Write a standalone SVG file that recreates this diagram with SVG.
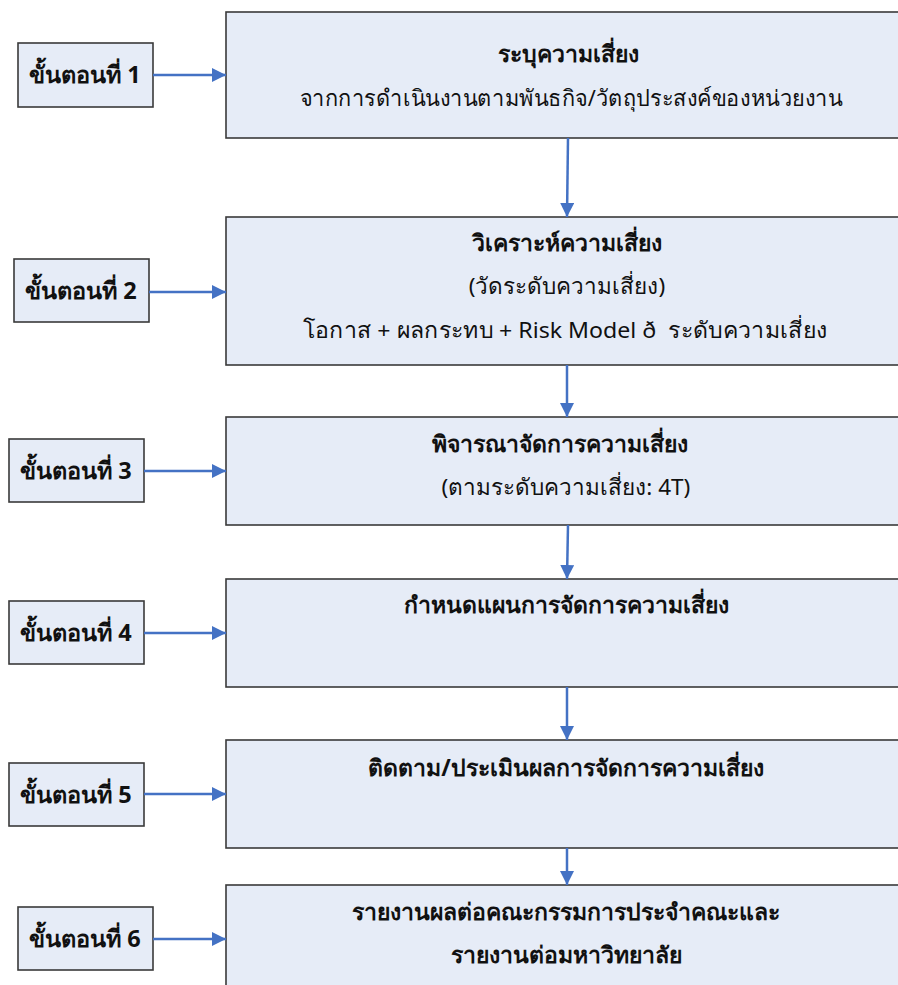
<svg xmlns="http://www.w3.org/2000/svg" width="898" height="985" viewBox="0 0 898 985">
<defs>
<style>
.box{fill:#E6ECF7;stroke:#3a3a3a;stroke-width:1.6}
.t{font-family:"Noto Sans","DejaVu Sans",sans-serif;font-size:22.5px;fill:#111;text-anchor:middle}
.b{font-weight:bold;font-size:23px}
.lb{font-family:"Noto Sans","DejaVu Sans",sans-serif;font-size:23.5px;font-weight:bold;fill:#111;text-anchor:middle}
.c{stroke:#4472C4;stroke-width:2.5;fill:none;marker-end:url(#ah)}
</style>
<marker id="ah" viewBox="0 0 10 10" refX="10" refY="5" markerWidth="5.6" markerHeight="5.6" markerUnits="strokeWidth" orient="auto">
<path d="M0,0 L10,5 L0,10 z" fill="#4472C4"/>
</marker>
</defs>
<rect width="898" height="985" fill="#fff"/>

<g id="main1"><rect class="box" x="226" y="12" width="690" height="126"/>
<text class="t b" x="568" y="62">ระบุความเสี่ยง</text>
<text class="t" x="571" y="106" textLength="543" lengthAdjust="spacingAndGlyphs">จากการดำเนินงานตามพันธกิจ/วัตถุประสงค์ของหน่วยงาน</text></g>
<g id="main2"><rect class="box" x="226" y="217" width="690" height="148"/>
<text class="t b" x="567" y="251">วิเคราะห์ความเสี่ยง</text>
<text class="t" x="567" y="294">(วัดระดับความเสี่ยง)</text>
<text class="t" x="565" y="338" textLength="525" lengthAdjust="spacingAndGlyphs" xml:space="preserve">โอกาส + ผลกระทบ + Risk Model ð  ระดับความเสี่ยง</text></g>
<g id="main3"><rect class="box" x="226" y="417" width="690" height="108"/>
<text class="t b" x="560" y="452">พิจารณาจัดการความเสี่ยง</text>
<text class="t" x="566" y="495">(ตามระดับความเสี่ยง: 4T)</text></g>
<g id="main4"><rect class="box" x="226" y="579" width="690" height="108"/>
<text class="t b" x="566" y="613">กำหนดแผนการจัดการความเสี่ยง</text></g>
<g id="main5"><rect class="box" x="226" y="740" width="690" height="108"/>
<text class="t b" x="566" y="776">ติดตาม/ประเมินผลการจัดการความเสี่ยง</text></g>
<g id="main6"><rect class="box" x="226" y="885" width="690" height="120"/>
<text class="t b" x="566" y="920">รายงานผลต่อคณะกรรมการประจำคณะและ</text>
<text class="t b" x="566" y="963">รายงานต่อมหาวิทยาลัย</text></g>

<g id="step1"><rect class="box" x="18" y="43" width="135" height="64"/><text class="lb" x="85" y="83">ขั้นตอนที่ 1</text></g>
<g id="step2"><rect class="box" x="14" y="259" width="135" height="63"/><text class="lb" x="81" y="299">ขั้นตอนที่ 2</text></g>
<g id="step3"><rect class="box" x="9" y="439" width="135" height="63"/><text class="lb" x="76" y="479">ขั้นตอนที่ 3</text></g>
<g id="step4"><rect class="box" x="9" y="601" width="135" height="63"/><text class="lb" x="76" y="641">ขั้นตอนที่ 4</text></g>
<g id="step5"><rect class="box" x="9" y="763" width="135" height="63"/><text class="lb" x="76" y="803">ขั้นตอนที่ 5</text></g>
<g id="step6"><rect class="box" x="18" y="907" width="135" height="63"/><text class="lb" x="85" y="947">ขั้นตอนที่ 6</text></g>

<g id="connectors">
<line class="c" x1="153" y1="75" x2="226" y2="75"/>
<line class="c" x1="149" y1="292" x2="226" y2="292"/>
<line class="c" x1="144" y1="471" x2="226" y2="471"/>
<line class="c" x1="144" y1="633" x2="226" y2="633"/>
<line class="c" x1="144" y1="794" x2="226" y2="794"/>
<line class="c" x1="153" y1="939" x2="226" y2="939"/>
<line class="c" x1="568" y1="138" x2="567" y2="217"/>
<line class="c" x1="567" y1="365" x2="567" y2="417"/>
<line class="c" x1="568" y1="525" x2="567" y2="579"/>
<line class="c" x1="567" y1="687" x2="567" y2="740"/>
<line class="c" x1="567" y1="848" x2="567" y2="885"/>
</g>
</svg>
